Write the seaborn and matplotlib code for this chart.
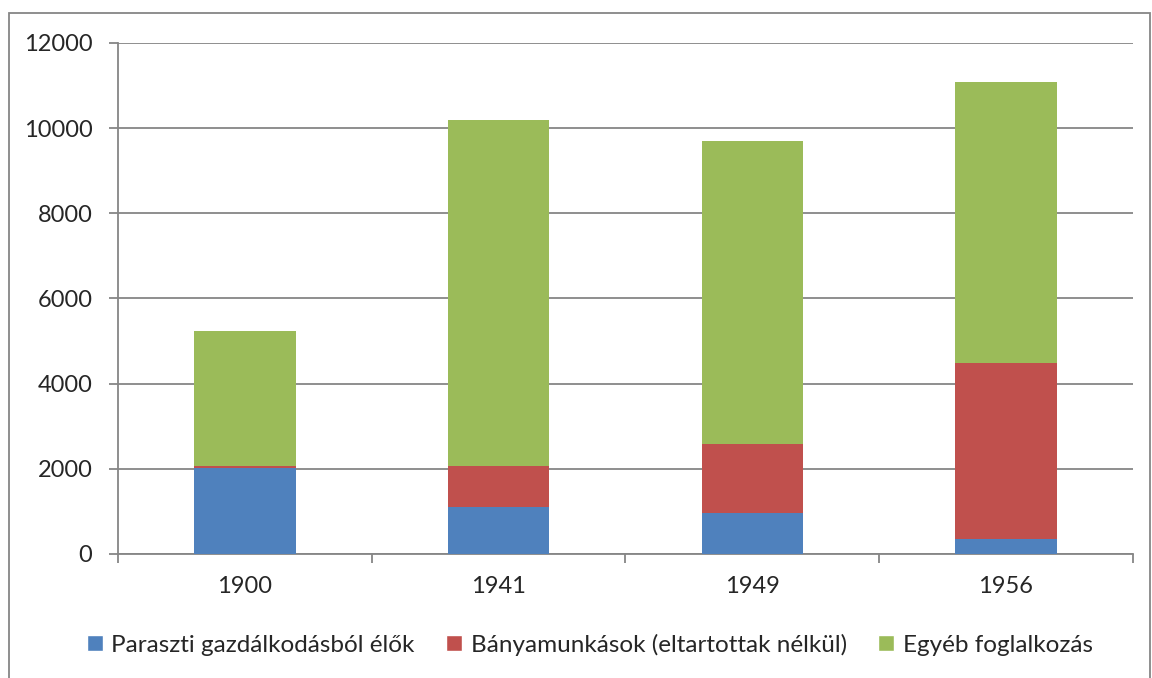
import pandas as pd
import matplotlib.pyplot as plt
import seaborn as sns
from matplotlib.patches import Patch, Rectangle

years = ["1900", "1941", "1949", "1956"]
paraszti = [2010, 1100, 960, 355]
banya = [45, 970, 1630, 4120]
egyeb = [3185, 8120, 7110, 6605]

labels = ["Paraszti gazdálkodásból élők", "Bányamunkások (eltartottak nélkül)", "Egyéb foglalkozás"]
colors = ["#4F81BD", "#C0504D", "#9BBB59"]

df = pd.DataFrame({"year": years, "p": paraszti, "b": banya, "e": egyeb})
df["pb"] = df["p"] + df["b"]
df["total"] = df["pb"] + df["e"]

sns.set_style("white")
plt.rcParams['font.family'] = ['Lato', 'DejaVu Sans']

fig = plt.figure(figsize=(11.52, 6.78), dpi=100)
ax = fig.add_axes([0.1024, 0.1829, 0.881, 0.7537])

# stacked by overlaying cumulative totals
for col, c in zip(["total", "pb", "p"], colors[::-1]):
    sns.barplot(data=df, x="year", y=col, color=c, width=0.4, ax=ax,
                saturation=1, zorder=3, linewidth=0)

ax.set_ylim(0, 12000)
ax.set_xlim(-0.5, 3.5)
ax.set_yticks(range(0, 12001, 2000))
ax.yaxis.grid(True, color="#868686", linewidth=1.3, zorder=0)
ax.set_axisbelow(True)
ax.set_xlabel("")
ax.set_ylabel("")

for s in ["top", "right"]:
    ax.spines[s].set_visible(False)
for s in ["left", "bottom"]:
    ax.spines[s].set_color("#868686")
    ax.spines[s].set_linewidth(1.3)

ax.tick_params(axis="y", which="major", direction="out", length=6.5, width=1.3,
               color="#868686", labelsize=17, pad=12, left=True)
ax.tick_params(axis="x", which="major", length=0, labelsize=17, pad=16)
ax.set_xticks([-0.5, 0.5, 1.5, 2.5, 3.5], minor=True)
ax.tick_params(axis="x", which="minor", direction="out", length=6.5, width=1.3,
               color="#868686", bottom=True)

handles = [Patch(facecolor=c, label=l) for c, l in zip(colors, labels)]
fig.legend(handles=handles, loc="center", bbox_to_anchor=(0.512, 0.049), ncol=3,
           frameon=False, fontsize=17.5, handlelength=0.65, handleheight=0.65,
           handletextpad=0.35, columnspacing=1.3)

fig.patches.append(Rectangle((0.008, -0.01), 0.99, 0.991, transform=fig.transFigure,
                             fill=False, edgecolor="#868686", linewidth=1.3))

fig.savefig("out.png", dpi=100)
